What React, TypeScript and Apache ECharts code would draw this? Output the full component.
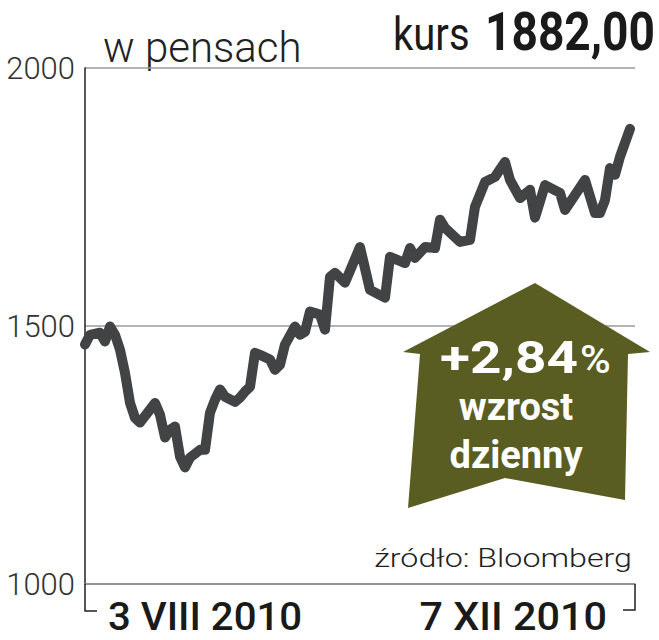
import React, { useEffect, useRef } from "react";
import * as echarts from "echarts";

// trading-day index (x) and closing price in pence (y)
const dayIndex = [
  0, 1, 3, 4, 5, 6, 7, 8, 9, 10, 11, 13, 14, 15, 16, 17, 18, 19, 20, 21, 23, 24,
  25, 26, 27, 28, 30, 31, 32, 33, 34, 35, 37, 38, 39, 40, 42, 43, 44, 45, 47, 48,
  49, 50, 52, 55, 57, 60, 61, 64, 65, 66, 68, 70, 71, 72, 75, 77, 78, 80, 82, 84,
  85, 87, 89, 90, 92, 95, 96, 98, 100, 102, 103, 104, 105, 106, 107, 109,
];
const price = [
  1464, 1483, 1487, 1470, 1499, 1483, 1454, 1409, 1351, 1322, 1313, 1338, 1351, 1328, 1284, 1299, 1305, 1247, 1226, 1245, 1260, 1260,
  1332, 1357, 1377, 1363, 1353, 1361, 1373, 1382, 1448, 1444, 1435, 1415, 1425, 1464, 1499, 1483, 1489, 1528, 1522, 1493,
  1595, 1603, 1584, 1653, 1570, 1555, 1634, 1622, 1651, 1632, 1653, 1651, 1706, 1690, 1663, 1667, 1731, 1779, 1789, 1818,
  1783, 1748, 1764, 1710, 1773, 1758, 1725, 1754, 1783, 1719, 1719, 1744, 1806, 1793, 1828, 1882,
];
const yTicks = { min: 1000, max: 2000, interval: 500 };
const unitLabel = "w pensach";
const kursLabel = "kurs";
const kursValue = "1882,00";
const startDate = "3 VIII 2010";
const endDate = "7 XII 2010";
const changeValue = "+2,84";
const changeLine1 = "wzrost";
const changeLine2 = "dzienny";
const sourceLabel = "źródło: Bloomberg";

const FONT = "Roboto, 'Noto Sans', sans-serif";
const OLIVE = "#5a5d22";

function mid(baseline: number, size: number) {
  return baseline - 0.34 * size;
}

export default function App() {
  const ref = useRef<HTMLDivElement>(null);
  useEffect(() => {
    document.body.style.margin = "0";
    if (!ref.current) return;
    const chart = echarts.init(ref.current, undefined, { renderer: "svg" });
    const data = dayIndex.map((d, i) => [d, price[i]]);
    chart.setOption({
      animation: false,
      backgroundColor: "#ffffff",
      grid: { left: 85, right: 24, top: 68, bottom: 56, containLabel: false },
      xAxis: {
        type: "value",
        min: 0,
        max: 110,
        axisLine: { show: true, lineStyle: { color: "#8a8a8a", width: 1.5 } },
        axisTick: { show: false },
        axisLabel: { show: false },
        splitLine: { show: false },
      },
      yAxis: {
        type: "value",
        min: yTicks.min,
        max: yTicks.max,
        interval: yTicks.interval,
        axisLine: { show: true, lineStyle: { color: "#222", width: 1.5 } },
        axisTick: { show: false },
        axisLabel: {
          fontFamily: FONT,
          fontWeight: 300,
          fontSize: 31,
          color: "#333",
          margin: 10,
          formatter: (v: number) => String(v),
        },
        splitLine: { show: true, lineStyle: { color: "#9a9a9a", width: 1.5 } },
      },
      series: [
        {
          type: "line",
          data,
          showSymbol: false,
          z: 3,
          lineStyle: { color: "#424344", width: 10, cap: "round", join: "round" },
        },
      ],
      graphic: [
        {
          type: "polyline",
          z: 5,
          shape: { points: [[85, 584], [85, 611], [97, 611]] },
          style: { stroke: "#222", lineWidth: 1.5, fill: null },
        },
        {
          type: "polyline",
          z: 5,
          shape: { points: [[623, 610], [635, 610], [635, 584]] },
          style: { stroke: "#222", lineWidth: 1.5, fill: null },
        },
        {
          type: "text",
          x: 103,
          y: mid(62, 42),
          style: { text: unitLabel, fontFamily: FONT, fontWeight: 300, fontSize: 42, fill: "#222", align: "left", verticalAlign: "middle" },
        },
        {
          type: "text",
          x: 393,
          y: mid(50, 46),
          scaleX: 0.87,
          style: { text: kursLabel, fontFamily: FONT, fontWeight: 400, fontSize: 46, fill: "#1a1a1a", align: "left", verticalAlign: "middle" },
        },
        {
          type: "text",
          x: 655,
          y: mid(50, 53),
          scaleX: 0.87,
          style: { text: kursValue, fontFamily: FONT, fontWeight: "bold", fontSize: 53, fill: "#1a1a1a", align: "right", verticalAlign: "middle" },
        },
        {
          type: "text",
          x: 108,
          y: mid(630, 39),
          scaleX: 1.03,
          style: { text: startDate, fontFamily: FONT, fontWeight: 500, fontSize: 39, fill: "#1a1a1a", align: "left", verticalAlign: "middle" },
        },
        {
          type: "text",
          x: 607,
          y: mid(630, 39),
          scaleX: 1.06,
          style: { text: endDate, fontFamily: FONT, fontWeight: 500, fontSize: 39, fill: "#1a1a1a", align: "right", verticalAlign: "middle" },
        },
        {
          type: "text",
          x: 632,
          y: mid(567, 26),
          scaleX: 1.24,
          style: { text: sourceLabel, fontFamily: FONT, fontWeight: 300, fontSize: 26, fill: "#222", align: "right", verticalAlign: "middle" },
        },
        {
          type: "polygon",
          z: 10,
          shape: {
            points: [
              [535, 283], [650, 352], [628, 354], [625, 500], [505, 478], [408, 508], [420, 354], [403, 352],
            ],
          },
          style: { fill: OLIVE },
        },
        {
          type: "text",
          z: 11,
          x: 578,
          y: mid(373, 45),
          scaleX: 1.22,
          style: { text: changeValue, fontFamily: FONT, fontWeight: "bold", fontSize: 45, fill: "#ffffff", align: "right", verticalAlign: "middle" },
        },
        {
          type: "text",
          z: 11,
          x: 580,
          y: mid(373, 38),
          scaleX: 1.1,
          style: { text: "%", fontFamily: FONT, fontWeight: 500, fontSize: 38, fill: "#ffffff", align: "left", verticalAlign: "middle" },
        },
        {
          type: "text",
          z: 11,
          x: 516,
          y: mid(420, 38),
          style: { text: changeLine1, fontFamily: FONT, fontWeight: "bold", fontSize: 38, fill: "#ffffff", align: "center", verticalAlign: "middle" },
        },
        {
          type: "text",
          z: 11,
          x: 516,
          y: mid(468, 38),
          style: { text: changeLine2, fontFamily: FONT, fontWeight: "bold", fontSize: 38, fill: "#ffffff", align: "center", verticalAlign: "middle" },
        },
      ],
    });
    return () => chart.dispose();
  }, []);
  return <div ref={ref} style={{ width: 659, height: 640 }} />;
}
